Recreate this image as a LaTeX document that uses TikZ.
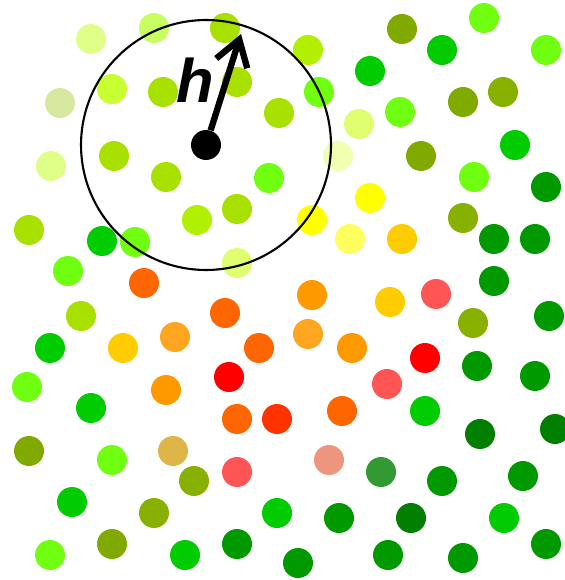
\documentclass[tikz,border=0pt]{standalone}
\usepackage{fontspec}
\usepackage{tikz}
\usetikzlibrary{arrows.meta}
\newfontfamily\hfont{Liberation Sans}
\definecolor{ygreen}{HTML}{A8E000}
\definecolor{lime}{HTML}{70FF10}
\definecolor{mgreen}{HTML}{00CC00}
\definecolor{dgreen}{HTML}{009900}
\definecolor{ddgreen}{HTML}{007F00}
\definecolor{sgreen}{HTML}{339933}
\definecolor{olive}{HTML}{80AA00}
\definecolor{oliveb}{HTML}{88B000}
\definecolor{bright}{HTML}{B0F000}
\definecolor{chart}{HTML}{C8FF30}
\definecolor{paleg}{HTML}{C8FF60}
\definecolor{pale}{HTML}{E0FF88}
\definecolor{palec}{HTML}{E0FF70}
\definecolor{vpale}{HTML}{F0FFB0}
\definecolor{grayg}{HTML}{D8E8A0}
\definecolor{yel}{HTML}{FFFF00}
\definecolor{lyel}{HTML}{FFFF60}
\definecolor{amber}{HTML}{FFCC00}
\definecolor{lorange}{HTML}{FF9900}
\definecolor{korange}{HTML}{FFA520}
\definecolor{orng}{HTML}{FF6600}
\definecolor{rorange}{HTML}{FF3300}
\definecolor{rd}{HTML}{FF0000}
\definecolor{salmon}{HTML}{FF5555}
\definecolor{peach}{HTML}{EE9580}
\definecolor{tan}{HTML}{DDB548}

\begin{document}
\begin{tikzpicture}[x=0.02cm, y=-0.02cm, >={Straight Barb[length=5mm, width=6.5mm]},
    dot/.style={circle, fill=#1, minimum size=0.6cm, inner sep=0pt}]
    \useasboundingbox (0,0) rectangle (564,580);
    % the sample points
    \foreach \x/\y/\c [count=\i] in {
        91/39/pale, 154/28/paleg, 225/28/ygreen, 60/103/grayg, 112/89/chart,
        163/92/ygreen, 237/82/ygreen, 279/113/ygreen, 51/166/pale, 114/156/ygreen,
        166/177/ygreen, 269/178/lime, 197/220/bright, 237/209/ygreen, 29/230/ygreen,
        102/241/mgreen, 135/242/lime, 68/271/lime, 237/263/palec, 144/283/orng,
        402/29/olive, 484/18/lime, 442/50/mgreen, 546/50/lime, 308/50/bright,
        370/71/mgreen, 319/92/lime, 463/102/olive, 503/92/oliveb, 359/124/palec,
        400/112/lime, 338/156/vpale, 421/156/olive, 515/145/mgreen, 474/177/lime,
        546/187/dgreen, 370/198/yel, 312/220/yel, 350/239/lyel, 402/239/amber,
        463/218/oliveb, 494/239/dgreen, 535/239/dgreen, 494/281/dgreen, 312/295/lorange,
        436/294/salmon, 81/316/ygreen, 50/348/mgreen, 123/348/amber, 175/337/korange,
        225/313/orng, 259/348/orng, 27/387/lime, 91/408/mgreen, 166/390/lorange,
        229/377/rd, 237/419/orng, 277/419/rorange, 29/451/olive, 112/460/lime,
        173/451/tan, 194/481/oliveb, 237/472/salmon, 72/502/mgreen, 154/513/oliveb,
        277/513/mgreen, 50/555/lime, 112/544/olive, 185/555/mgreen, 237/544/dgreen,
        390/302/amber, 473/323/oliveb, 549/316/dgreen, 308/334/korange, 352/348/lorange,
        425/358/rd, 477/366/dgreen, 535/376/dgreen, 387/384/salmon, 342/411/orng,
        425/411/mgreen, 480/434/ddgreen, 555/429/ddgreen, 329/460/peach, 381/472/sgreen,
        442/481/dgreen, 523/476/dgreen, 339/518/dgreen, 411/518/ddgreen, 504/518/mgreen,
        298/563/dgreen, 388/555/dgreen, 463/558/dgreen, 546/544/dgreen}
        \node[dot=\c] (p\i) at (\x,\y) {};
    % the kernel around the point of interest
    \node[dot=black] (ctr) at (206,145) {};
    \draw[line width=1.2pt] (ctr.center) circle (2.5cm);
    \coordinate (tip) at (241,34);
    \draw[->, line width=3.6pt] (ctr) -- (tip);
    \node (h) at (195,80) {\fontsize{35}{40}\selectfont\hfont\bfseries\itshape h};
\end{tikzpicture}
\end{document}
